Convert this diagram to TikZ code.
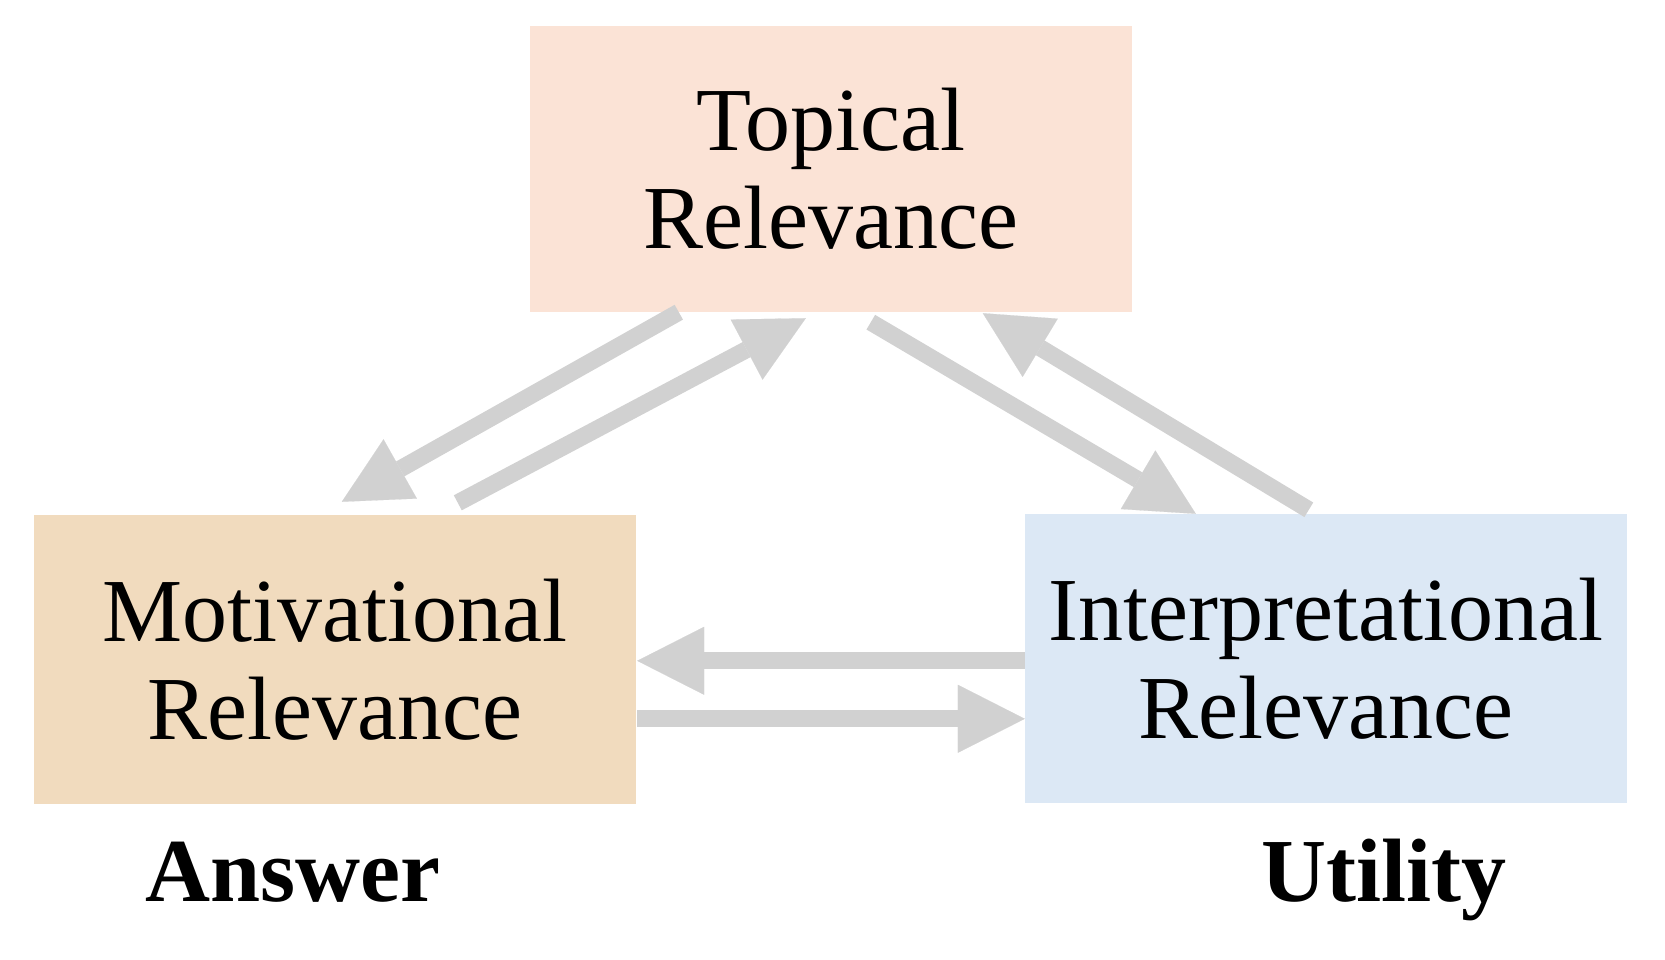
\documentclass[tikz,border=0pt]{standalone}
\usepackage{fontspec}
\setmainfont{Liberation Serif}
\usetikzlibrary{arrows.meta,calc}
\definecolor{topfill}{HTML}{FBE3D6}
\definecolor{motfill}{HTML}{F1DBBE}
\definecolor{intfill}{HTML}{DCE8F5}
\definecolor{arrgray}{HTML}{D1D1D1}
\tikzset{
  relbox/.style={minimum width=602pt, minimum height=288pt, inner sep=0pt, align=center,
    font=\fontsize{90}{98}\selectfont},
  tag/.style={anchor=base, inner sep=0pt, font=\fontsize{90}{98}\selectfont\bfseries},
  flow/.style={draw=arrgray, line width=17pt, line cap=butt,
    -{Triangle[length=67pt,width=68pt,line width=0.1pt,fill=arrgray]}}
}
\begin{document}
\begin{tikzpicture}[x=1pt,y=-1pt]
\useasboundingbox (0,0) rectangle (1665,960);
\fill[white] (0,0) rectangle (1665,960);
\node[relbox, fill=topfill, minimum height=286pt] (top) at (831,169) {Topical\\Relevance};
\node[relbox, fill=motfill, minimum height=289pt] (mot) at (335,659.5) {Motivational\\Relevance};
\node[relbox, fill=intfill, minimum height=289pt] (int) at (1326,658.5) {Interpretational\\Relevance};
\node[tag] (ans) at (293,901) {Answer};
\node[tag] (uti) at (1384,901) {Utility};
% diagonal arrows
\draw[flow] ($(top.south west)+(149,0)$) -- ($(mot.north west)+(308,-13)$);
\draw[flow] ($(mot.north west)+(424,-12)$) -- ($(top.south west)+(276,6)$);
\draw[flow] ($(top.south west)+(341,10)$) -- ($(int.north west)+(171,0)$);
\draw[flow] ($(int.north west)+(284,-4)$) -- ($(top.south west)+(453,1)$);
% horizontal arrows
\draw[flow] ($(int.north west)+(0,147)$) -- ($(mot.north east)+(1,146)$);
\draw[flow] ($(mot.north east)+(1,204)$) -- ($(int.north west)+(0,205)$);
\end{tikzpicture}
\end{document}
